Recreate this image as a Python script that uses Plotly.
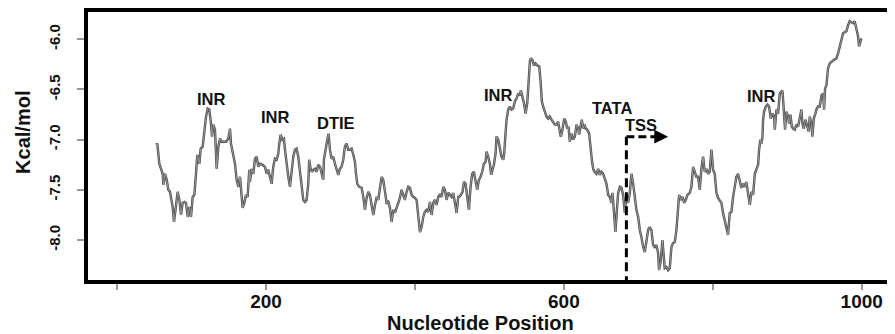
import plotly.graph_objects as go

# ---- data: free-energy profile (Kcal/mol) along nucleotide position ----
pos_a = [52.4, 54.1, 56.8, 61.3, 62.2, 64.4, 66.7, 68.9, 71.1, 74.7, 76.5, 79.2, 81.4, 83.7, 85.9, 88.1, 90.4, 92.6, 94.9, 97.1,
         99.3, 101.6, 103.8, 106.0, 107.8, 110.5, 112.3, 115.0, 116.8, 119.5, 121.7, 123.9, 126.2, 127.5, 129.3, 131.5, 133.8, 136.0,
         138.3, 140.5, 142.7, 146.3, 149.4, 151.7, 153.0, 155.3, 158.4, 160.6, 162.9, 165.1, 167.3, 168.7, 170.9, 173.2, 175.4, 177.6]
kcal_a = [-7.05, -7.04, -7.24, -7.34, -7.45, -7.34, -7.40, -7.50, -7.52, -7.67, -7.82, -7.67, -7.52, -7.60, -7.75, -7.63, -7.62, -7.63,
          -7.77, -7.67, -7.77, -7.57, -7.55, -7.34, -7.15, -7.24, -7.09, -7.07, -6.94, -6.77, -6.69, -6.70, -6.84, -6.97, -6.85, -6.90,
          -7.29, -7.07, -6.99, -7.02, -7.02, -7.02, -6.99, -6.89, -7.04, -7.14, -7.24, -7.40, -7.47, -7.37, -7.53, -7.68, -7.63, -7.55,
          -7.57, -7.30]

pos_b = [178.5, 180.7, 183.0, 185.2, 187.5, 189.7, 191.9, 195.5, 198.6, 200.9, 203.1, 205.3, 207.6, 209.8, 212.1, 214.3, 216.5, 217.9,
         219.7, 221.9, 224.1, 225.5, 227.7, 230.0, 232.2, 234.4, 236.7, 238.9, 241.1, 243.4, 245.6, 247.8, 250.1, 252.3, 254.6, 256.8,
         258.1, 259.9, 261.7, 263.5, 265.7, 268.0, 270.2, 272.5, 274.7, 276.9, 277.8, 279.6, 282.3, 284.1, 285.9, 288.1, 290.4, 292.6,
         294.8, 297.1, 299.3, 301.5, 303.8, 306.0, 308.2, 310.5]
kcal_b = [-7.42, -7.29, -7.34, -7.19, -7.17, -7.27, -7.24, -7.25, -7.27, -7.34, -7.30, -7.37, -7.44, -7.27, -7.19, -7.20, -7.14, -7.04,
          -6.95, -7.00, -6.99, -7.10, -7.27, -7.37, -7.47, -7.34, -7.17, -7.10, -7.09, -7.17, -7.30, -7.47, -7.60, -7.62, -7.60, -7.44,
          -7.20, -7.29, -7.32, -7.30, -7.29, -7.32, -7.25, -7.27, -7.35, -7.40, -7.20, -7.10, -7.00, -6.94, -7.10, -7.19, -7.17, -7.24,
          -7.29, -7.35, -7.29, -7.27, -7.20, -7.07, -7.04, -7.10]

pos_c = [312.8, 315.0, 317.3, 319.5, 320.9, 322.6, 325.3, 328.5, 330.7, 332.9, 335.2, 337.4, 339.6, 341.9, 344.1, 346.4, 348.6, 350.8,
         353.1, 355.3, 357.5, 359.8, 362.0, 364.3, 366.5, 368.7, 371.0, 373.2, 375.4, 377.7, 379.9, 382.1, 384.4, 386.6, 388.9, 391.1,
         393.3, 395.6, 397.8, 400.0, 402.3, 404.5, 406.8, 409.0, 411.2, 413.5, 415.7, 417.9, 420.2, 422.4, 424.7, 426.9, 429.1, 431.4,
         433.6, 435.8, 438.1, 440.3, 442.5, 444.8, 447.0, 449.3, 451.5, 453.7, 456.0, 458.2]
kcal_c = [-7.10, -7.09, -7.15, -7.22, -7.34, -7.44, -7.47, -7.48, -7.57, -7.70, -7.58, -7.52, -7.55, -7.67, -7.75, -7.65, -7.57, -7.60,
          -7.48, -7.37, -7.40, -7.53, -7.63, -7.62, -7.68, -7.82, -7.70, -7.73, -7.68, -7.65, -7.58, -7.50, -7.55, -7.60, -7.52, -7.47,
          -7.48, -7.55, -7.57, -7.58, -7.60, -7.73, -7.92, -7.87, -7.77, -7.72, -7.70, -7.72, -7.62, -7.75, -7.63, -7.60, -7.65, -7.57,
          -7.55, -7.57, -7.47, -7.50, -7.60, -7.53, -7.55, -7.57, -7.53, -7.63, -7.73, -7.57]

pos_d = [459.5, 461.8, 464.0, 465.8, 468.0, 470.3, 472.5, 474.7, 477.0, 479.2, 481.4, 483.7, 485.9, 488.2, 490.4, 492.6, 494.9, 496.2,
         498.5, 500.7, 502.5, 504.3, 506.1, 508.3, 509.6, 511.9, 514.1, 516.3, 518.6, 519.9, 521.7, 523.1, 525.3, 527.5, 529.8, 532.0,
         534.2, 536.5, 538.7, 541.0, 542.3, 544.5, 546.8, 548.6, 550.8, 552.6, 554.4, 555.7, 558.0, 559.7, 562.0, 564.2, 566.9, 568.7,
         570.5, 572.3, 574.5, 576.7, 579.0]
kcal_d = [-7.57, -7.55, -7.52, -7.42, -7.44, -7.57, -7.70, -7.47, -7.34, -7.32, -7.40, -7.50, -7.40, -7.37, -7.32, -7.24, -7.22, -7.12,
          -7.17, -7.24, -7.35, -7.30, -7.25, -7.14, -6.97, -7.00, -7.10, -7.17, -7.20, -7.14, -6.94, -6.80, -6.70, -6.67, -6.70, -6.69,
          -6.62, -6.59, -6.54, -6.56, -6.51, -6.57, -6.65, -6.74, -6.64, -6.44, -6.22, -6.19, -6.21, -6.26, -6.24, -6.26, -6.27, -6.41,
          -6.62, -6.67, -6.72, -6.77, -6.79]

pos_e = [581.2, 583.4, 585.7, 587.9, 590.1, 592.4, 594.6, 596.0, 598.2, 600.4, 602.7, 604.5, 606.3, 608.0, 610.3, 612.5, 614.8, 617.0,
         619.2, 620.6, 622.4, 624.1, 625.9, 627.7, 629.5, 631.3, 634.0, 635.8, 637.6, 639.4, 641.2, 643.8, 646.1, 648.3, 650.5, 652.8,
         655.0, 657.3, 659.5, 661.7, 664.0, 665.3, 667.1, 669.3, 671.6, 672.9, 675.2, 677.4, 679.6, 681.9, 684.1, 686.3, 688.6, 690.8,
         693.1, 695.3, 697.5, 699.8, 702.0, 704.2, 706.5, 708.7, 710.9, 713.2]
kcal_e = [-6.77, -6.80, -6.82, -6.85, -6.85, -6.82, -6.92, -6.97, -6.90, -6.79, -6.82, -6.89, -6.87, -7.02, -6.94, -7.00, -6.97, -6.85,
          -6.89, -6.95, -6.87, -6.80, -6.89, -6.85, -6.89, -6.90, -6.94, -7.10, -7.20, -7.29, -7.32, -7.34, -7.29, -7.35, -7.32, -7.34,
          -7.40, -7.44, -7.55, -7.57, -7.63, -7.53, -7.70, -7.92, -7.67, -7.53, -7.47, -7.48, -7.55, -7.73, -7.55, -7.63, -7.53, -7.34,
          -7.44, -7.60, -7.70, -7.77, -7.90, -7.97, -8.07, -8.12, -8.03, -7.90]

pos_f = [715.4, 717.6, 719.9, 722.1, 724.4, 726.6, 727.9, 730.2, 732.4, 734.2, 735.5, 737.8, 740.0, 742.2, 744.5, 746.7, 749.0, 751.2,
         753.4, 754.8, 757.0, 759.2, 761.5, 763.7, 766.0, 769.1, 771.3, 773.6, 775.8, 778.0, 780.3, 782.5, 784.7, 787.0, 789.2, 791.5,
         793.7, 795.9, 798.2, 800.4, 802.6, 804.9, 807.1, 809.4, 811.6, 813.8, 816.1, 818.3, 820.5, 822.8, 825.0, 827.3, 829.5, 831.7,
         834.0, 836.2, 838.4, 840.7, 842.9, 845.1, 847.4]
kcal_f = [-7.87, -7.90, -8.05, -8.07, -8.05, -8.13, -8.30, -8.20, -8.00, -8.13, -8.28, -8.27, -8.30, -8.28, -8.07, -8.03, -8.02, -7.90,
          -7.67, -7.55, -7.60, -7.57, -7.63, -7.60, -7.55, -7.53, -7.47, -7.27, -7.32, -7.37, -7.37, -7.50, -7.29, -7.17, -7.32, -7.29,
          -7.34, -7.32, -7.10, -7.30, -7.34, -7.53, -7.58, -7.60, -7.63, -7.73, -7.80, -7.87, -7.95, -7.73, -7.72, -7.57, -7.47, -7.37,
          -7.34, -7.40, -7.48, -7.44, -7.47, -7.42, -7.52]

pos_g = [849.7, 851.9, 854.2, 856.4, 858.6, 860.9, 862.2, 864.0, 865.4, 866.7, 867.6, 868.9, 871.2, 873.4, 875.6, 877.9, 880.1, 882.4,
         883.3, 885.5, 887.7, 890.0, 892.2, 893.5, 894.4, 895.8, 897.1, 898.9, 901.2, 902.5, 904.3, 906.1, 907.9, 910.1, 912.3, 914.6,
         916.8, 919.0, 920.4, 922.2, 924.4, 926.7, 928.9, 930.2, 932.5, 933.8, 935.6, 937.8, 939.2, 941.4, 943.7, 945.9, 948.1, 949.5,
         950.8, 952.6, 954.8, 957.1, 959.3, 961.6, 963.8, 966.0, 968.3, 970.5, 972.7, 975.0, 977.2, 979.5, 981.7, 983.9, 986.2, 988.4,
         990.6, 992.9, 995.1, 996.4, 998.2, 999.6]
kcal_g = [-7.65, -7.52, -7.55, -7.34, -7.30, -7.25, -7.10, -7.00, -7.04, -6.97, -6.80, -6.72, -6.67, -6.65, -6.67, -6.79, -6.74, -6.77,
          -6.90, -6.70, -6.74, -6.54, -6.52, -6.51, -6.60, -6.84, -6.90, -6.72, -6.77, -6.84, -6.75, -6.87, -6.89, -6.90, -6.85, -6.87,
          -6.80, -6.70, -6.84, -6.89, -6.80, -6.87, -6.92, -6.77, -6.84, -6.97, -6.79, -6.74, -6.70, -6.67, -6.67, -6.56, -6.54, -6.70,
          -6.49, -6.46, -6.29, -6.24, -6.22, -6.21, -6.20, -6.19, -6.14, -6.07, -6.02, -5.94, -5.93, -5.92, -5.86, -5.82, -5.83, -5.84,
          -5.82, -5.89, -5.97, -6.07, -6.01, -5.99]

# element labels: (text, position, energy level)
label_text = ["INR", "INR", "DTIE", "INR", "TATA", "TSS", "INR"]
label_pos = [127, 213, 294, 512, 664, 704, 865]
label_kcal = [-6.59, -6.77, -6.83, -6.55, -6.68, -6.85, -6.56]

# TSS marker: position and arrow level
tss_pos = 684
tss_kcal = -6.97
tss_arrow_end = 740

x_tick_vals = [0, 200, 400, 600, 800, 1000]
x_tick_text = ["", "200", "", "600", "", "1000"]
y_tick_vals = [-8.0, -7.5, -7.0, -6.5, -6.0]
y_tick_text = ["-8.0", "-7.5", "-7.0", "-6.5", "-6.0"]

segments = [(pos_a, kcal_a), (pos_b, kcal_b), (pos_c, kcal_c), (pos_d, kcal_d),
            (pos_e, kcal_e), (pos_f, kcal_f), (pos_g, kcal_g)]
positions, energies = [], []
for p, k in segments:
    assert len(p) == len(k), (len(p), len(k))
    positions += p
    energies += k

FONT = "Liberation Sans, Arial, Helvetica, sans-serif"
TXT = "#111111"

fig = go.Figure()
fig.add_trace(go.Scatter(x=positions, y=energies, mode="lines",
                         line=dict(color="#4a4a4a", width=2.4), hoverinfo="skip", showlegend=False))
fig.add_trace(go.Scatter(x=positions, y=energies, mode="lines",
                         line=dict(color="#a8a8a8", width=0.8), showlegend=False))

for t, xp, yk in zip(label_text, label_pos, label_kcal):
    fig.add_annotation(x=xp, y=yk, text=t, showarrow=False, xanchor="center", yanchor="middle",
                       font=dict(family=FONT, size=16.5, color=TXT, weight="bold"))

# TSS dashed bent arrow
fig.add_shape(type="line", x0=tss_pos, x1=tss_pos, y0=-8.45, y1=tss_kcal, xref="x", yref="y",
              line=dict(color="black", width=3, dash="9px,5px"))
fig.add_shape(type="line", x0=tss_pos, x1=tss_arrow_end - 8, y0=tss_kcal, y1=tss_kcal, xref="x", yref="y",
              line=dict(color="black", width=3, dash="8px,4px"))
fig.add_annotation(x=tss_arrow_end, y=tss_kcal, ax=tss_arrow_end - 10, ay=tss_kcal, axref="x", ayref="y",
                   xref="x", yref="y", text="", showarrow=True, arrowhead=2, arrowsize=1.1, arrowwidth=2.5,
                   arrowcolor="black")

# axis titles
fig.add_annotation(xref="paper", yref="paper", x=0.489, y=-0.160, text="Nucleotide Position",
                   showarrow=False, xanchor="center", yanchor="middle",
                   font=dict(family=FONT, size=20, color=TXT, weight="bold"))
fig.add_annotation(xref="paper", yref="paper", x=-0.081, y=0.549, text="Kcal/mol", textangle=-90,
                   showarrow=False, xanchor="center", yanchor="middle",
                   font=dict(family=FONT, size=20, color=TXT, weight="bold"))

# the page body adds an 8px margin, so the figure is sized/padded to compensate
fig.update_layout(
    width=887, height=326,
    margin=dict(l=80, r=5, t=4, b=54),
    paper_bgcolor="white", plot_bgcolor="white",
    showlegend=False,
    font=dict(family=FONT, color=TXT),
)
fig.update_xaxes(range=[-39, 1038], tickmode="array", tickvals=x_tick_vals, ticktext=x_tick_text,
                 automargin=False, ticklabelstandoff=-5,
                 ticks="outside", ticklen=6, tickwidth=2, tickcolor="#999999",
                 showline=True, linecolor="black", linewidth=3.5, mirror=True,
                 showgrid=False, zeroline=False,
                 tickfont=dict(family=FONT, size=19, color=TXT, weight="bold"))
fig.update_yaxes(range=[-8.398, -5.728], tickmode="array", tickvals=y_tick_vals, ticktext=y_tick_text,
                 automargin=False, tickangle=-90, ticklabelstandoff=11,
                 ticks="outside", ticklen=7, tickwidth=2, tickcolor="#999999",
                 showline=True, linecolor="black", linewidth=3.5, mirror=True,
                 showgrid=False, zeroline=False,
                 tickfont=dict(family=FONT, size=15, color=TXT, weight="bold"))

fig.write_html("out.html")
